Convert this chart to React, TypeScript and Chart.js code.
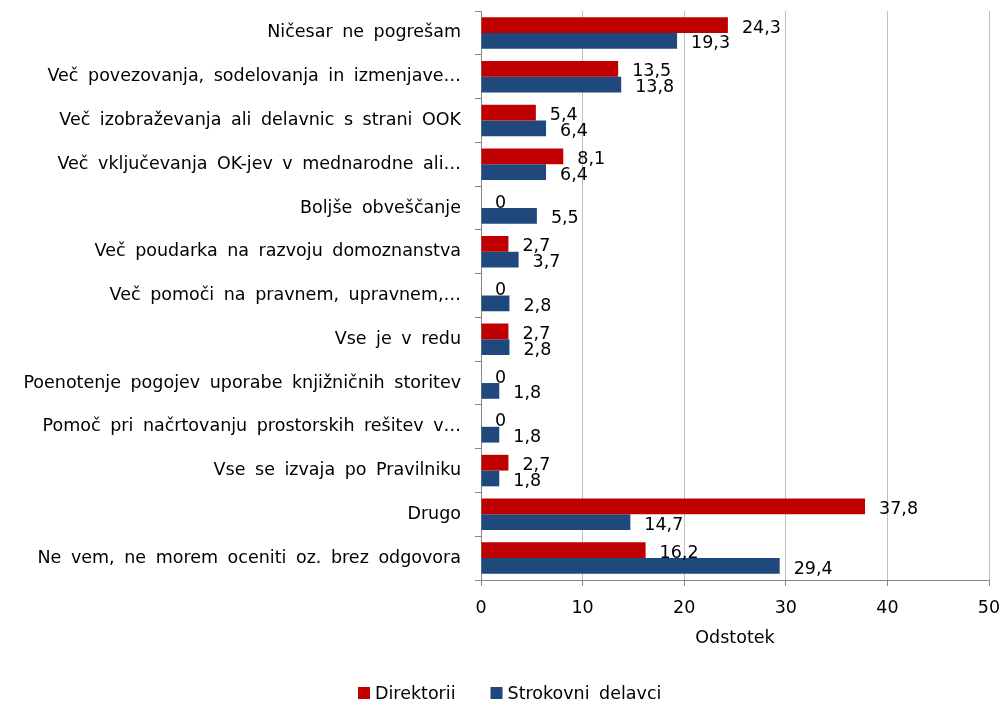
import React, { useEffect, useRef } from "react";
import { Chart, registerables } from "chart.js";

Chart.register(...registerables);

const categories: string[] = [
  "Ničesar ne pogrešam",
  "Več povezovanja, sodelovanja in izmenjave…",
  "Več izobraževanja ali delavnic s strani OOK",
  "Več vključevanja OK-jev v mednarodne ali…",
  "Boljše obveščanje",
  "Več poudarka na razvoju domoznanstva",
  "Več pomoči na pravnem, upravnem,…",
  "Vse je v redu",
  "Poenotenje pogojev uporabe knjižničnih storitev",
  "Pomoč pri načrtovanju prostorskih rešitev v…",
  "Vse se izvaja po Pravilniku",
  "Drugo",
  "Ne vem, ne morem oceniti oz. brez odgovora",
];

const direktorii: number[] = [24.3, 13.5, 5.4, 8.1, 0, 2.7, 0, 2.7, 0, 0, 2.7, 37.8, 16.2];
const strokovni: number[] = [19.3, 13.8, 6.4, 6.4, 5.5, 3.7, 2.8, 2.8, 1.8, 1.8, 1.8, 14.7, 29.4];

const seriesNames: string[] = ["Direktorii", "Strokovni delavci"];
const seriesColors: string[] = ["#C00000", "#1F497D"];

const xTicks: number[] = [0, 10, 20, 30, 40, 50];
const xTitle = "Odstotek";

const FONT = "'DejaVu Sans', sans-serif";
const WORD_SPACING = "4px";

const fmt = (v: number) => String(v).replace(".", ",");

const spacingPlugin = {
  id: "wordSpacing",
  beforeDraw(chart: any) {
    try {
      (chart.ctx as any).wordSpacing = WORD_SPACING;
    } catch (e) {}
  },
};

const dataLabelPlugin = {
  id: "dataLabels",
  afterDatasetsDraw(chart: any) {
    const ctx = chart.ctx;
    ctx.save();
    ctx.font = `17.5px ${FONT}`;
    ctx.fillStyle = "#000";
    ctx.textAlign = "left";
    ctx.textBaseline = "middle";
    chart.data.datasets.forEach((ds: any, di: number) => {
      const meta = chart.getDatasetMeta(di);
      meta.data.forEach((el: any, i: number) => {
        const v = ds.data[i];
        ctx.fillText(fmt(v), el.x + 14, el.y + 3);
      });
    });
    ctx.restore();
  },
};

const legendPlugin = {
  id: "customLegend",
  afterDraw(chart: any) {
    const ctx = chart.ctx;
    ctx.save();
    ctx.font = `17.5px ${FONT}`;
    ctx.textBaseline = "middle";
    ctx.textAlign = "left";
    const box = 12;
    const gap = 5;
    const spacing = 35;
    const widths = seriesNames.map((n) => box + gap + ctx.measureText(n).width);
    let x = 358;
    const cy = 693;
    seriesNames.forEach((n, i) => {
      ctx.fillStyle = seriesColors[i];
      ctx.fillRect(x, cy - box / 2, box, box);
      ctx.fillStyle = "#000";
      ctx.fillText(n, x + box + gap, cy + 1);
      x += widths[i] + spacing;
    });
    ctx.restore();
  },
};

export default function App() {
  const ref = useRef<HTMLCanvasElement | null>(null);
  useEffect(() => {
    if (!ref.current) return;
    Chart.defaults.font.family = FONT;
    const chart = new Chart(ref.current, {
      type: "bar",
      data: {
        labels: categories,
        datasets: [
          {
            label: seriesNames[0],
            data: direktorii,
            backgroundColor: seriesColors[0],
            borderWidth: 0,
            barPercentage: 1.0,
            categoryPercentage: 0.72,
          },
          {
            label: seriesNames[1],
            data: strokovni,
            backgroundColor: seriesColors[1],
            borderWidth: 0,
            barPercentage: 1.0,
            categoryPercentage: 0.72,
          },
        ],
      },
      options: {
        indexAxis: "y",
        responsive: false,
        animation: false,
        devicePixelRatio: 1,
        layout: { padding: { top: 11, right: 12, left: 0, bottom: 0 } },
        plugins: {
          legend: { display: false },
          tooltip: { enabled: false },
        },
        scales: {
          x: {
            min: 0,
            max: 50,
            afterBuildTicks: (scale: any) => {
              scale.ticks = xTicks.map((v) => ({ value: v }));
            },
            afterFit: (scale: any) => {
              scale.height = 122;
              scale.paddingLeft = 0;
              scale.paddingRight = 0;
            },
            grid: {
              color: "#BFBFBF",
              tickColor: "#868686",
              tickLength: 6,
              lineWidth: 1,
            },
            border: { color: "#868686", width: 1 },
            ticks: {
              color: "#000",
              font: { size: 17.5, family: FONT },
              padding: 12,
              maxRotation: 0,
            },
            title: {
              display: true,
              text: xTitle,
              color: "#000",
              font: { size: 17.5, family: FONT },
              padding: { top: 0, bottom: 53 },
            },
          },
          y: {
            afterFit: (scale: any) => {
              scale.width = 481;
              scale.paddingTop = 0;
              scale.paddingBottom = 0;
            },
            grid: {
              offset: true,
              drawOnChartArea: false,
              tickColor: "#868686",
              tickLength: 6,
            },
            border: { color: "#868686", width: 1 },
            ticks: {
              color: "#000",
              font: { size: 17.5, family: FONT },
              padding: 14,
              autoSkip: false,
            },
          },
        },
      },
      plugins: [spacingPlugin, dataLabelPlugin, legendPlugin],
    } as any);
    return () => chart.destroy();
  }, []);
  return (
    <div style={{ position: "fixed", left: 0, top: 0, width: 1001, height: 702, background: "#fff" }}>
      <canvas ref={ref} width={1001} height={702} style={{ display: "block" }} />
    </div>
  );
}
